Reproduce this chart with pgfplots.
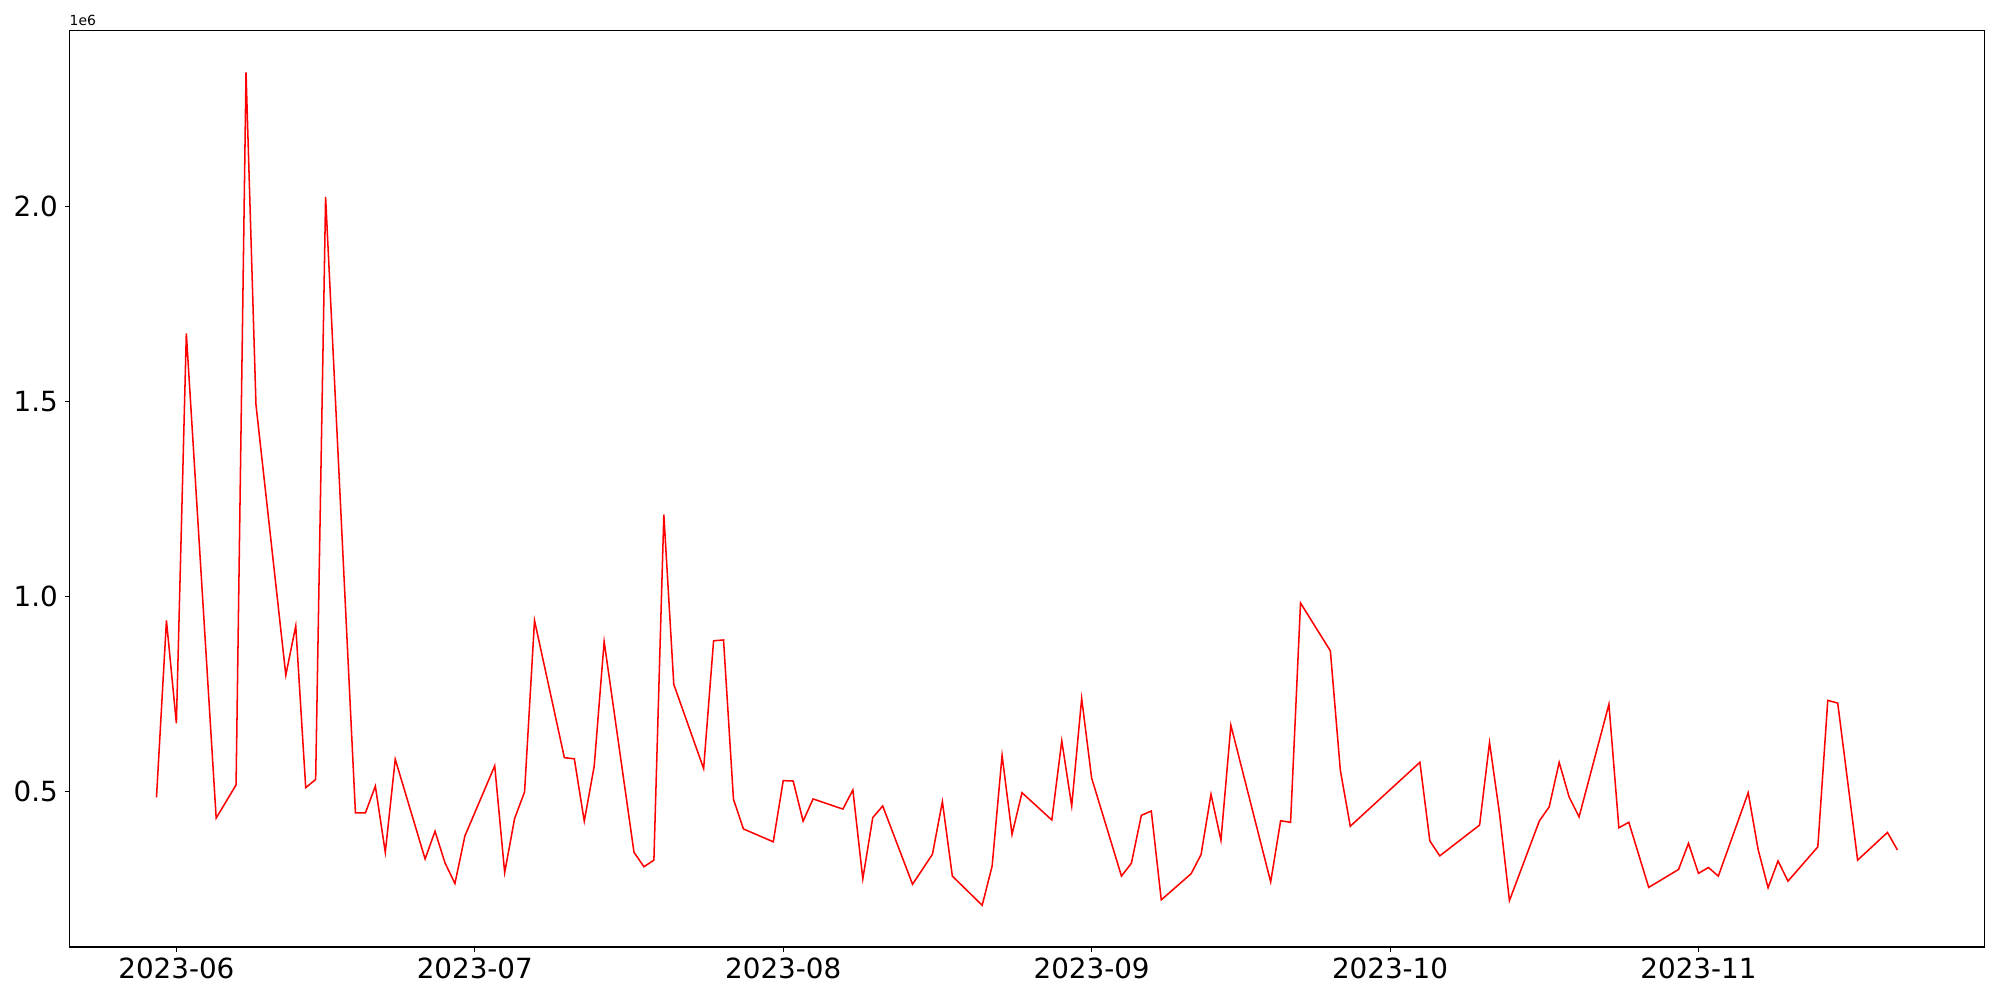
\documentclass[border=0pt]{standalone}
\usepackage{fontspec}
\setmainfont{DejaVu Sans}
\usepackage{pgfplots}
\usepackage{pgfplotstable}
\pgfplotsset{compat=1.18}
% day index: 0 = 2023-06-01
\pgfplotstableread{
d v
-2 0.484
-1 0.938
0 0.674
1 1.675
4 0.431
6 0.516
7 2.345
8 1.492
11 0.798
12 0.924
13 0.509
14 0.530
15 2.025
18 0.444
19 0.444
20 0.513
21 0.343
22 0.582
25 0.326
26 0.397
27 0.316
28 0.263
29 0.385
32 0.565
33 0.291
34 0.430
35 0.498
36 0.938
39 0.586
40 0.583
41 0.423
42 0.564
43 0.884
46 0.343
47 0.306
48 0.323
49 1.210
50 0.774
53 0.558
54 0.886
55 0.888
56 0.479
57 0.403
60 0.370
61 0.527
62 0.526
63 0.423
64 0.480
67 0.454
68 0.503
69 0.275
70 0.432
71 0.462
74 0.261
76 0.338
77 0.473
78 0.282
81 0.207
82 0.308
83 0.592
84 0.389
85 0.496
88 0.426
89 0.629
90 0.462
91 0.738
92 0.534
95 0.282
96 0.315
97 0.438
98 0.449
99 0.221
102 0.288
103 0.337
104 0.492
105 0.374
106 0.669
110 0.267
111 0.424
112 0.420
113 0.983
116 0.860
117 0.554
118 0.410
125 0.574
126 0.372
127 0.334
131 0.413
132 0.625
133 0.443
134 0.219
137 0.423
138 0.460
139 0.574
140 0.485
141 0.434
144 0.723
145 0.406
146 0.420
148 0.253
151 0.299
152 0.366
153 0.289
154 0.304
155 0.282
158 0.496
159 0.350
160 0.252
161 0.321
162 0.269
165 0.357
166 0.733
167 0.726
169 0.323
172 0.394
173 0.349
}\datatable
\begin{document}
\begin{tikzpicture}
\begin{axis}[
  scale only axis,
  width=1378.8pt, height=659.7pt,
  xmin=-10.75, xmax=181.75,
  ymin=0.1001, ymax=2.4519,
  xtick={0,30,61,92,122,153},
  xticklabels={2023-06,2023-07,2023-08,2023-09,2023-10,2023-11},
  ytick={0.5,1.0,1.5,2.0},
  yticklabels={0.5,1.0,1.5,2.0},
  xtick pos=bottom, ytick pos=left,
  tick align=outside,
  major tick length=3.5pt,
  minor tick num=0,
  every tick/.style={black, line width=0.8pt},
  axis line style={black, line width=0.8pt},
  ticklabel style={font=\fontsize{20}{24}\selectfont},
  xticklabel style={inner sep=0pt, yshift=-4.4pt},
  yticklabel style={inner sep=0pt, xshift=-4.6pt},
  clip=true,
]
\addplot[red, line width=1.1pt, mark=none] table[x=d, y=v] {\datatable};
\coordinate (bl) at (rel axis cs:0,0);
\coordinate (tl) at (rel axis cs:0,1);
\coordinate (tr) at (rel axis cs:1,1);
\end{axis}
\node[anchor=base west, inner sep=0pt, font=\fontsize{10}{12}\selectfont] at ([yshift=3.6pt]tl) {1e6};
\pgfresetboundingbox
\path[use as bounding box] ([xshift=-50pt,yshift=-38.2pt]bl) rectangle ([xshift=11.2pt,yshift=22.1pt]tr);
\end{tikzpicture}
\end{document}
